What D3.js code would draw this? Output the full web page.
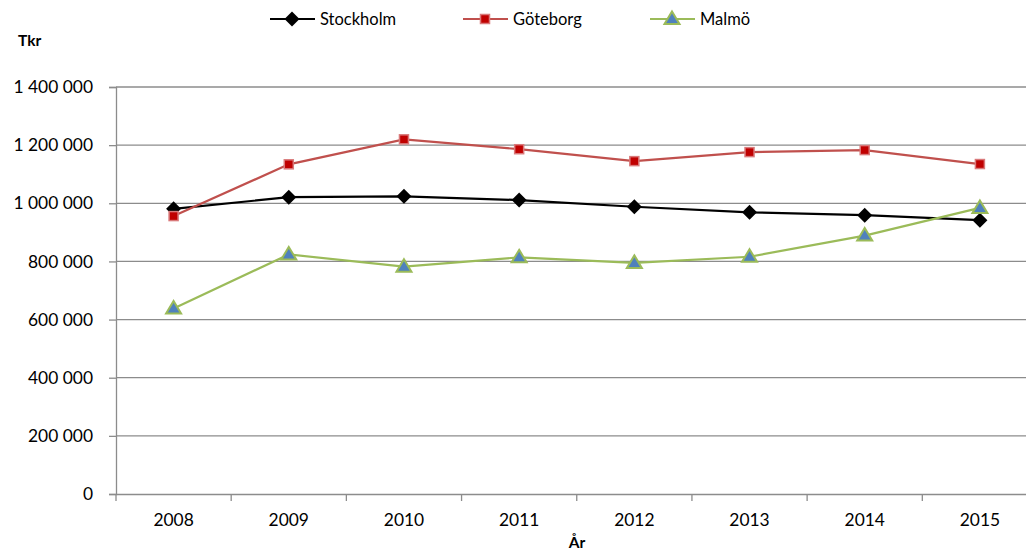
<!DOCTYPE html>
<html><head><meta charset="utf-8">
<script src="https://cdn.jsdelivr.net/npm/d3@7"></script>
<style>
body{margin:0;background:#fff;}
svg{display:block;font-family:Lato, "Open Sans", sans-serif;}
</style></head>
<body><svg id="c" width="1026" height="551"></svg>
<script>
const years = ["2008","2009","2010","2011","2012","2013","2014","2015"];
const stockholm = [981000, 1021000, 1024000, 1011000, 988000, 969000, 959000, 942000];
const goteborg = [956000, 1134000, 1220000, 1186000, 1145000, 1176000, 1183000, 1135000];
const malmo = [638000, 824000, 782000, 814000, 795000, 816000, 889000, 984000];
const yTicks = [0, 200000, 400000, 600000, 800000, 1000000, 1200000, 1400000];
const seriesNames = ["Stockholm", "Göteborg", "Malmö"];

const svg = d3.select("#c");
const x = d3.scaleBand().domain(years).range([116, 1037.5]).padding(0);
const y = d3.scaleLinear().domain([0, 1400000]).range([494, 87]);
const fmt = v => d3.format(",")(v).replace(/,/g, " ");

// gridlines
svg.append("g").selectAll("line").data(yTicks.filter(d => d > 0)).join("line")
  .attr("x1", 116).attr("x2", 1037).attr("y1", d => y(d)).attr("y2", d => y(d))
  .attr("stroke", "#8c8c8c").attr("stroke-width", 1.3);

// y axis
const yAxis = svg.append("g").attr("transform", "translate(116,0)")
  .call(d3.axisLeft(y).tickValues(yTicks).tickFormat(fmt).tickSize(7).tickPadding(16));
yAxis.select(".domain").attr("stroke", "#8c8c8c").attr("stroke-width", 1.3);
yAxis.selectAll(".tick line").attr("stroke", "#8c8c8c").attr("stroke-width", 1.3);
yAxis.selectAll("text").attr("font-size", 17.4).attr("fill", "#000").attr("font-family", "Lato");

// x axis
const xAxis = svg.append("g").attr("transform", "translate(0,494)")
  .call(d3.axisBottom(x).tickSize(0).tickPadding(20));
xAxis.select(".domain").attr("stroke", "#8c8c8c").attr("stroke-width", 1.3);
xAxis.selectAll("text").attr("font-size", 17.4).attr("fill", "#000").attr("font-family", "Lato");
// tick marks at band boundaries
const bounds = years.map(d => x(d)).concat([x.range()[1]]);
svg.append("g").selectAll("line").data(bounds).join("line")
  .attr("x1", d => d).attr("x2", d => d).attr("y1", 494).attr("y2", 501)
  .attr("stroke", "#8c8c8c").attr("stroke-width", 1.3);

// titles
svg.append("text").attr("x", 18).attr("y", 46).text("Tkr")
  .attr("font-weight", "bold").attr("font-size", 15.5).attr("font-family", "Lato");
svg.append("text").attr("x", 577).attr("y", 548).attr("text-anchor", "middle").text("År")
  .attr("font-weight", "bold").attr("font-size", 15.5).attr("font-family", "Lato");

const cx = d => x(d) + x.bandwidth() / 2;
const series = [
  {name: seriesNames[0], values: stockholm, color: "#000000", marker: "diamond"},
  {name: seriesNames[1], values: goteborg, color: "#c0504d", marker: "square"},
  {name: seriesNames[2], values: malmo, color: "#9bbb59", marker: "triangle"}
];

function drawMarker(g, type, px, py) {
  if (type === "diamond") {
    g.append("path").attr("d", `M${px},${py-7.5}L${px+7.5},${py}L${px},${py+7.5}L${px-7.5},${py}Z`)
      .attr("fill", "#000");
  } else if (type === "square") {
    g.append("rect").attr("x", px-4.5).attr("y", py-4.5).attr("width", 9).attr("height", 9)
      .attr("fill", "#c00000").attr("stroke", "#d9797a").attr("stroke-width", 1.5);
  } else {
    g.append("path").attr("d", `M${px},${py-7.5}L${px+7.5},${py+5}L${px-7.5},${py+5}Z`)
      .attr("fill", "#4f81bd").attr("stroke", "#9bbb59").attr("stroke-width", 2).attr("stroke-linejoin", "miter");
  }
}

const line = d3.line().x((d, i) => cx(years[i])).y(d => y(d));
series.forEach(s => {
  svg.append("path").datum(s.values).attr("d", line)
    .attr("fill", "none").attr("stroke", s.color).attr("stroke-width", 2.2);
  const g = svg.append("g");
  s.values.forEach((v, i) => drawMarker(g, s.marker, cx(years[i]), y(v)));
});

// legend
const legendX = [270, 463, 650];
series.forEach((s, i) => {
  const lx = legendX[i];
  const g = svg.append("g");
  g.append("line").attr("x1", lx).attr("x2", lx + 45).attr("y1", 19).attr("y2", 19)
    .attr("stroke", s.color).attr("stroke-width", 2.2);
  drawMarker(g, s.marker, lx + 22, 19);
  g.append("text").attr("x", lx + 50).attr("y", 25).text(s.name)
    .attr("font-size", 16.5).attr("font-family", "Lato");
});
</script></body></html>
